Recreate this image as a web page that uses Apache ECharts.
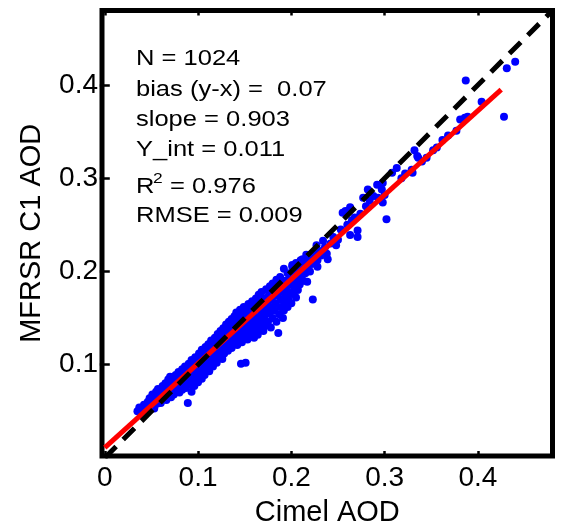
<!DOCTYPE html>
<html>
<head>
<meta charset="utf-8">
<script src="https://cdn.jsdelivr.net/npm/echarts@6/dist/echarts.min.js"></script>
<style>
html,body{margin:0;padding:0;background:#fff;}
#chart{width:563px;height:532px;}
</style>
</head>
<body>
<div id="chart"></div>
<script>
// ---- data ----
const xTickValues = [0, 0.1, 0.2, 0.3, 0.4];
const yTickValues = [0.1, 0.2, 0.3, 0.4];
const xName = 'Cimel AOD';
const yName = 'MFRSR C1 AOD';
const statsLines = ['N = 1024', 'bias (y-x) =  0.07', 'slope = 0.903', 'Y_int = 0.011', 'R|2|= 0.976', 'RMSE = 0.009'];
const oneToOneLine = [[0, 0], [0.48, 0.48]];
const fitLine = [[0, 0.011], [0.425, 0.395]];
const scatterPoints = [
[0.035,0.050],[0.037,0.054],[0.039,0.046],
[0.041,0.052],[0.042,0.057],[0.044,0.049],
[0.045,0.055],[0.046,0.060],[0.048,0.052],[0.048,0.064],
[0.050,0.057],[0.051,0.068],[0.052,0.061],[0.053,0.053],
[0.054,0.065],[0.055,0.071],[0.056,0.058],[0.057,0.062],[0.057,0.074],
[0.059,0.067],[0.060,0.059],[0.061,0.072],[0.062,0.077],[0.063,0.064],
[0.064,0.069],[0.065,0.080],[0.066,0.062],[0.067,0.075],[0.068,0.084],[0.068,0.067],
[0.069,0.071],[0.070,0.087],[0.071,0.065],[0.072,0.078],[0.072,0.083],[0.073,0.074],
[0.074,0.068],[0.075,0.080],[0.076,0.089],[0.077,0.072],[0.077,0.085],[0.078,0.076],
[0.079,0.092],[0.080,0.070],[0.080,0.082],[0.081,0.087],[0.082,0.077],[0.083,0.095],[0.083,0.073],
[0.084,0.085],[0.085,0.090],[0.086,0.080],[0.086,0.098],[0.087,0.075],[0.088,0.093],[0.089,0.059],[0.089,0.084],
[0.090,0.101],[0.091,0.079],[0.091,0.088],[0.092,0.096],[0.093,0.071],[0.093,0.105],[0.094,0.091],[0.095,0.083],
[0.096,0.099],[0.096,0.077],[0.097,0.108],[0.098,0.087],[0.098,0.094],[0.099,0.103],[0.100,0.081],
[0.101,0.112],[0.101,0.090],[0.102,0.097],[0.103,0.106],[0.104,0.085],[0.104,0.116],[0.105,0.101],
[0.106,0.093],[0.107,0.110],[0.107,0.089],[0.108,0.119],[0.109,0.104],[0.110,0.097],[0.110,0.114],
[0.111,0.122],[0.112,0.093],[0.112,0.108],[0.113,0.101],[0.114,0.126],[0.114,0.117],[0.115,0.112],
[0.116,0.098],[0.116,0.105],[0.117,0.121],[0.118,0.129],[0.119,0.110],[0.119,0.116],[0.120,0.102],
[0.121,0.125],[0.121,0.133],[0.122,0.108],[0.123,0.119],[0.124,0.114],[0.124,0.136],[0.125,0.128],
[0.126,0.106],[0.126,0.122],[0.127,0.139],[0.128,0.112],[0.128,0.131],[0.129,0.117],[0.130,0.143],[0.130,0.126],
[0.131,0.135],[0.132,0.115],[0.132,0.121],[0.133,0.146],[0.134,0.130],[0.134,0.139],[0.135,0.125],[0.136,0.149],
[0.136,0.118],[0.137,0.134],[0.137,0.143],[0.138,0.128],[0.139,0.152],[0.139,0.123],[0.140,0.138],[0.140,0.147],
[0.141,0.156],[0.142,0.121],[0.142,0.131],[0.143,0.142],[0.144,0.127],[0.144,0.150],[0.145,0.136],[0.145,0.159],[0.146,0.146],
[0.146,0.101],[0.147,0.124],[0.147,0.133],[0.148,0.154],[0.149,0.140],[0.149,0.162],[0.150,0.129],[0.150,0.148],[0.151,0.102],
[0.151,0.158],[0.152,0.136],[0.153,0.127],[0.153,0.144],[0.154,0.165],[0.155,0.152],[0.155,0.131],[0.156,0.160],[0.157,0.140],
[0.157,0.148],[0.158,0.168],[0.158,0.134],[0.159,0.156],[0.160,0.129],[0.160,0.144],[0.161,0.163],[0.162,0.138],[0.162,0.171],
[0.163,0.151],[0.164,0.132],[0.164,0.159],[0.165,0.145],[0.165,0.175],[0.166,0.167],[0.167,0.139],[0.168,0.155],
[0.168,0.178],[0.169,0.147],[0.169,0.163],[0.170,0.136],[0.171,0.171],[0.171,0.151],[0.172,0.142],[0.173,0.181],[0.173,0.159],
[0.174,0.166],[0.175,0.146],[0.176,0.175],[0.176,0.155],[0.177,0.184],[0.178,0.140],[0.178,0.162],[0.179,0.170],
[0.180,0.150],[0.180,0.187],[0.181,0.178],[0.182,0.158],[0.183,0.166],[0.184,0.191],[0.184,0.146],[0.185,0.174],[0.186,0.134],
[0.186,0.182],[0.187,0.154],[0.188,0.162],[0.188,0.194],[0.189,0.170],[0.190,0.178],[0.190,0.187],[0.191,0.150],
[0.192,0.203],[0.192,0.158],[0.193,0.166],[0.194,0.190],[0.194,0.174],[0.195,0.182],[0.196,0.198],[0.196,0.162],
[0.197,0.170],[0.198,0.186],[0.199,0.177],[0.199,0.196],[0.200,0.166],[0.201,0.205],[0.201,0.207],[0.202,0.176],[0.202,0.191],
[0.203,0.183],[0.204,0.200],[0.205,0.172],[0.205,0.209],[0.206,0.188],[0.207,0.196],[0.207,0.180],
[0.208,0.204],[0.209,0.186],[0.210,0.212],[0.210,0.194],[0.211,0.200],[0.212,0.213],[0.213,0.190],[0.214,0.206],
[0.215,0.198],[0.216,0.218],[0.217,0.189],[0.217,0.204],[0.218,0.211],[0.220,0.216],[0.220,0.200],
[0.222,0.208],[0.223,0.170],[0.224,0.214],[0.226,0.220],[0.227,0.228],[0.228,0.205],[0.228,0.212],
[0.230,0.222],[0.232,0.217],[0.234,0.233],[0.236,0.226],[0.238,0.219],[0.239,0.213],[0.242,0.230],[0.245,0.237],
[0.248,0.228],[0.250,0.234],[0.253,0.245],[0.255,0.263],[0.258,0.265],[0.260,0.250],[0.263,0.269],[0.263,0.239],
[0.265,0.255],[0.268,0.258],[0.271,0.244],[0.271,0.237],[0.274,0.262],[0.277,0.279],[0.280,0.270],[0.282,0.288],
[0.284,0.276],[0.288,0.281],[0.292,0.293],[0.293,0.279],[0.297,0.288],[0.298,0.295],[0.298,0.274],[0.300,0.282],
[0.302,0.256],[0.308,0.306],[0.313,0.311],[0.318,0.300],[0.322,0.305],[0.329,0.309],[0.330,0.306],[0.332,0.330],
[0.335,0.324],[0.336,0.322],[0.340,0.318],[0.345,0.322],[0.352,0.330],[0.356,0.333],[0.362,0.341],[0.368,0.346],
[0.377,0.351],[0.381,0.363],[0.386,0.365],[0.389,0.366],[0.387,0.405],[0.404,0.382],[0.428,0.366],[0.431,0.418],
[0.440,0.425]
];

// ---- chart ----
const FONT = '"Liberation Sans", Arial, sans-serif';
const chart = echarts.init(document.getElementById('chart'), null, {renderer: 'canvas'});

function axisCommon(extra) {
  return Object.assign({
    type: 'value',
    axisLine: {show: false},
    splitLine: {show: false}
  }, extra);
}
const tickStyle = function (vals) {
  return {show: true, inside: true, length: 5, customValues: vals, lineStyle: {color: '#000', width: 2.5}};
};

const textStyleBase = {fill: '#000', fontFamily: FONT, fontSize: 22, verticalAlign: 'middle'};
const lineY = [59.4, 90, 120, 150.4, 187, 216.4];
const graphics = [];
statsLines.forEach(function (t, i) {
  if (t.indexOf('|') >= 0) {
    const parts = t.split('|');
    graphics.push({type: 'text', x: 136, y: lineY[i], scaleX: 1.16, z: 100,
      style: Object.assign({}, textStyleBase, {text: parts[0]})});
    graphics.push({type: 'text', x: 153, y: lineY[i] - 8.5, scaleX: 1.16, z: 100,
      style: Object.assign({}, textStyleBase, {text: parts[1], fontSize: 15})});
    graphics.push({type: 'text', x: 170, y: lineY[i], scaleX: 1.16, z: 100,
      style: Object.assign({}, textStyleBase, {text: parts[2]})});
  } else {
    graphics.push({type: 'text', x: 136, y: lineY[i], scaleX: 1.16, z: 100,
      style: Object.assign({}, textStyleBase, {text: t})});
  }
});

chart.setOption({
  animation: false,
  backgroundColor: '#fff',
  grid: {left: 102, right: 10.5, top: 10.5, bottom: 71.5, show: true,
         borderColor: '#000', borderWidth: 5, backgroundColor: 'transparent'},
  xAxis: [
    axisCommon({
      min: -0.003, max: 0.48, position: 'bottom',
      name: xName, nameLocation: 'middle', nameGap: 42,
      nameTextStyle: {color: '#000', fontFamily: FONT, fontSize: 29},
      axisTick: tickStyle(xTickValues),
      axisLabel: {show: true, customValues: xTickValues, margin: 8, color: '#000', fontFamily: FONT, fontSize: 28}
    }),
    axisCommon({
      min: -0.003, max: 0.48, position: 'top',
      axisTick: tickStyle(xTickValues),
      axisLabel: {show: false}
    })
  ],
  yAxis: [
    axisCommon({
      min: 0.002, max: 0.48, position: 'left',
      name: yName, nameLocation: 'middle', nameGap: 56,
      nameTextStyle: {color: '#000', fontFamily: FONT, fontSize: 29},
      axisTick: tickStyle(yTickValues),
      axisLabel: {show: true, customValues: yTickValues, margin: 4, padding: [6, 0, 0, 0],
                  color: '#000', fontFamily: FONT, fontSize: 28}
    }),
    axisCommon({
      min: 0.002, max: 0.48, position: 'right',
      axisTick: tickStyle(yTickValues),
      axisLabel: {show: false}
    })
  ],
  graphic: graphics,
  series: [
    {
      type: 'scatter', xAxisIndex: 0, yAxisIndex: 0, data: scatterPoints,
      symbol: 'circle', symbolSize: 8, itemStyle: {color: '#0000ff', opacity: 1},
      z: 2, silent: true
    },
    {
      type: 'line', xAxisIndex: 0, yAxisIndex: 0, data: fitLine,
      symbol: 'none', lineStyle: {color: '#ff0000', width: 5, cap: 'butt'}, z: 3, silent: true
    },
    {
      type: 'line', xAxisIndex: 0, yAxisIndex: 0, data: oneToOneLine,
      symbol: 'none', lineStyle: {color: '#000', width: 5, type: [16, 10], cap: 'butt'}, z: 4, silent: true
    }
  ]
});
</script>
</body>
</html>
